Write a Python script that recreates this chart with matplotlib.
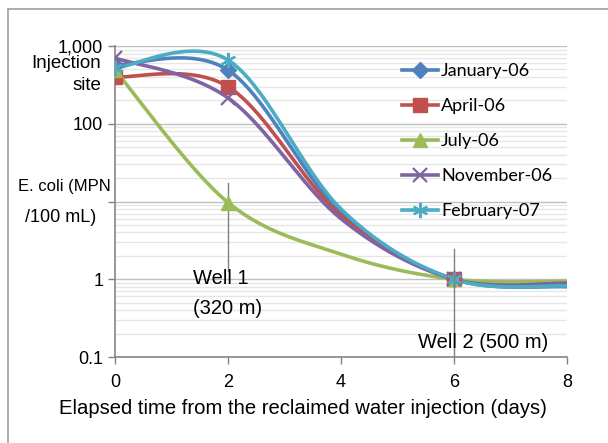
import numpy as np
import matplotlib
matplotlib.use("Agg")
import matplotlib.pyplot as plt
from matplotlib.lines import Line2D

# ---- data ----
days = [0, 2, 4, 6, 8]
series_names = ["January-06", "April-06", "July-06", "November-06", "February-07"]
january = [570, 490, 7.2, 1.0, 0.80]
april = [400, 300, 6.6, 1.0, 0.87]
july = [490, 9.7, 2.1, 1.0, 0.94]
november = [700, 215, 6.0, 1.0, 0.89]
february = [520, 660, 8.0, 1.0, 0.82]
all_values = [january, april, july, november, february]
marked_days = [0, 2, 6]  # markers drawn only at the sampling points
colors = ["#4F81BD", "#C0504D", "#9BBB59", "#8064A2", "#4BACC6"]
markers = ["D", "s", "^", "x", (6, 2, 0)]
msizes = [8, 10, 10, 10, 11]

yticks = [0.1, 1, 10, 100, 1000]
ytick_labels = ["0.1", "1", "", "100", "1,000"]
xticks = [0, 2, 4, 6, 8]

plt.rcParams['font.family'] = ['Liberation Sans', 'DejaVu Sans']

fig = plt.figure(figsize=(6.08, 4.43), dpi=100)
ax = fig.add_axes([115/608, 1-357/443, (567-115)/608, (357-46)/443])


def smooth(xs, ys, n=60):
    """Excel-like Bezier smoothing in (x, log10 y) space."""
    P = np.column_stack([xs, np.log10(ys)])
    out = [P[0:1]]
    m = len(P)
    for i in range(m - 1):
        p0 = P[i - 1] if i > 0 else P[i]
        p1, p2 = P[i], P[i + 1]
        p3 = P[i + 2] if i + 2 < m else P[i + 1]
        c1 = p1 + (p2 - p0) / 6.0
        c2 = p2 - (p3 - p1) / 6.0
        t = np.linspace(0, 1, n)[1:, None]
        b = ((1 - t) ** 3) * p1 + 3 * ((1 - t) ** 2) * t * c1 + 3 * (1 - t) * t ** 2 * c2 + t ** 3 * p2
        out.append(b)
    B = np.vstack(out)
    return B[:, 0], 10 ** B[:, 1]


handles = []
for name, vals, c, mk, ms in zip(series_names, all_values, colors, markers, msizes):
    sx, sy = smooth(days, vals)
    ax.plot(sx, sy, color=c, lw=2.6, solid_capstyle='butt', zorder=3)
    mew = 1.6 if mk in ("x",) or isinstance(mk, tuple) else 1.0
    mx = [d for d in days if d in marked_days]
    my = [v for d, v in zip(days, vals) if d in marked_days]
    ax.plot(mx, my, linestyle='none', marker=mk,
            markersize=ms, color=c, markeredgecolor=c, markeredgewidth=mew, zorder=4)
    handles.append(Line2D([], [], color=c, lw=2.6, marker=mk, markersize=ms,
                          markeredgecolor=c, markeredgewidth=mew))

ax.set_yscale('log')
ax.set_ylim(0.1, 1000)
ax.set_xlim(0, 8)
ax.set_yticks(yticks)
ax.set_yticklabels(ytick_labels)
ax.set_xticks(xticks)
ax.set_xticklabels([str(x) for x in xticks])
ax.tick_params(axis='both', labelsize=13, colors='#808080', labelcolor='black', length=5, width=1)
ax.tick_params(axis='y', which='minor', length=0)
ax.tick_params(axis='x', pad=7)

ax.grid(True, which='major', axis='y', color='#BFBFBF', lw=1.0, zorder=0)
ax.grid(True, which='minor', axis='y', color='#E6E6E6', lw=1.0, zorder=0)
for s in ['top', 'right']:
    ax.spines[s].set_visible(False)
for s in ['left', 'bottom']:
    ax.spines[s].set_color('#868686')
    ax.spines[s].set_linewidth(1.2)

# well markers
ax.plot([2, 2], [17.5, 1.27], color='#808080', lw=1.0, zorder=2)
ax.plot([6, 6], [2.45, 0.1], color='#808080', lw=1.0, zorder=5)
fig.text(193/608, 1-279/443, "Well 1", fontsize=14.5, ha='left', va='center')
fig.text(193/608, 1-308/443, "(320 m)", fontsize=14.5, ha='left', va='center')
fig.text(418/608, 1-342/443, "Well 2 (500 m)", fontsize=14.5, ha='left', va='center')

# y-axis label text placed around the 10 level
fig.text(101/608, 1-64/443, "Injection", fontsize=13.5, ha='right', va='center')
fig.text(101/608, 1-85/443, "site", fontsize=13.5, ha='right', va='center')
fig.text(111/608, 1-187/443, "E. coli (MPN", fontsize=12, ha='right', va='center')
fig.text(96/608, 1-218/443, "/100 mL)", fontsize=13, ha='right', va='center')

fig.text(303/608, 1-409/443, "Elapsed time from the reclaimed water injection (days)",
         fontsize=14.6, ha='center', va='center')

ax.legend(handles, series_names, loc='upper left', bbox_to_anchor=(386/608, 1-47/443),
          bbox_transform=fig.transFigure, frameon=False,
          handlelength=2.0, handletextpad=0.15, labelspacing=1.05,
          prop={'family': ['Lato', 'DejaVu Sans'], 'size': 13})

# outer frame (left and top visible)
fig.add_artist(Line2D([8/608, 8/608], [0, 1-9/443], color='#A0A0A0', lw=1.2, transform=fig.transFigure))
fig.add_artist(Line2D([8/608, 1], [1-9/443, 1-9/443], color='#A0A0A0', lw=1.2, transform=fig.transFigure))

fig.savefig("out.png", dpi=100)
